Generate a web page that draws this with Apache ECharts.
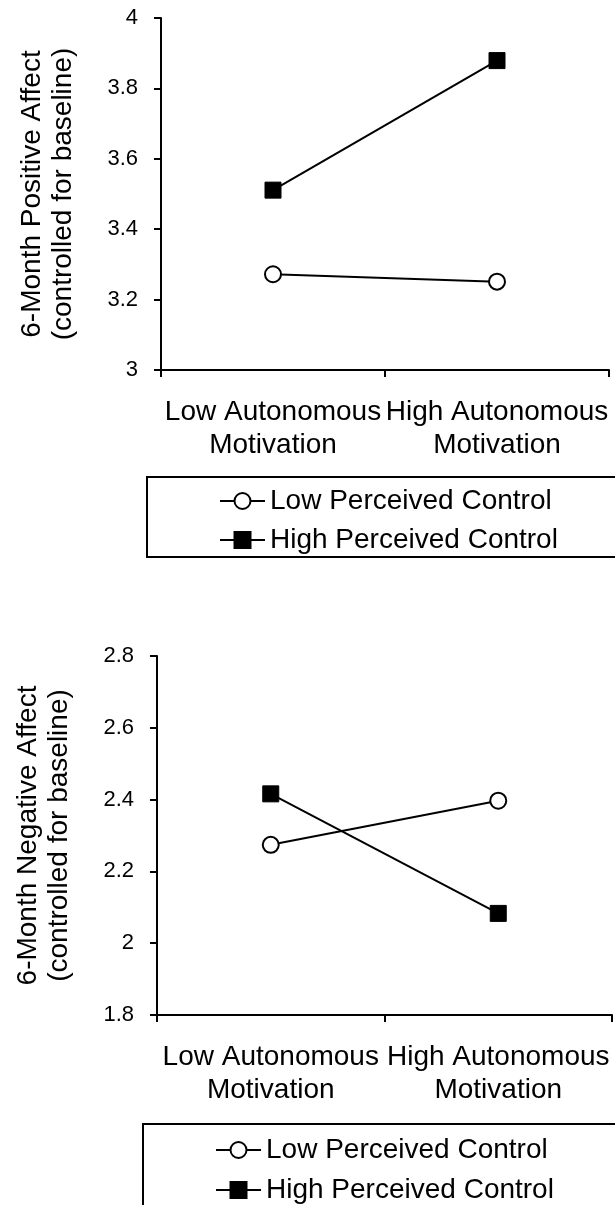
<!DOCTYPE html>
<html>
<head>
<meta charset="utf-8">
<script src="https://cdn.jsdelivr.net/npm/echarts@6/dist/echarts.min.js"></script>
<style>
  html, body { margin: 0; padding: 0; background: #fff; }
  #chart { width: 615px; height: 1205px; }
</style>
</head>
<body>
<div id="chart"></div>
<script>
// ---- data ----
const categories = ['Low Autonomous\nMotivation', 'High Autonomous\nMotivation'];
const seriesNames = ['Low Perceived Control', 'High Perceived Control'];

// Top panel: 6-Month Positive Affect
const posLowPC = [3.272, 3.251];
const posHighPC = [3.511, 3.879];
const posTicks = [3, 3.2, 3.4, 3.6, 3.8, 4];
const posTitle = '6-Month Positive Affect\n(controlled for baseline)';

// Bottom panel: 6-Month Negative Affect
const negLowPC = [2.274, 2.397];
const negHighPC = [2.416, 2.083];
const negTicks = [1.8, 2, 2.2, 2.4, 2.6, 2.8];
const negTitle = '6-Month Negative Affect\n(controlled for baseline)';

// ---- chart ----
const FONT = '"Liberation Sans", Arial, sans-serif';
const chart = echarts.init(document.getElementById('chart'), null, { renderer: 'canvas' });

function xAxisCfg(gridIndex) {
  return {
    type: 'category',
    gridIndex: gridIndex,
    data: categories,
    boundaryGap: true,
    axisLine: { lineStyle: { color: '#000', width: 2 } },
    axisTick: { show: true, length: 7, lineStyle: { color: '#000', width: 2 } },
    axisLabel: {
      interval: 0, color: '#000', fontSize: 28, lineHeight: 33,
      fontFamily: FONT, margin: 26
    },
    splitLine: { show: false }
  };
}
function yAxisCfg(gridIndex, ticks, title) {
  return {
    type: 'value',
    gridIndex: gridIndex,
    min: ticks[0],
    max: ticks[ticks.length - 1],
    interval: Math.round((ticks[1] - ticks[0]) * 1000) / 1000,
    name: title,
    nameLocation: 'middle',
    nameRotate: 90,
    nameGap: 82,
    nameTextStyle: { color: '#000', fontSize: 28, lineHeight: 31, fontFamily: FONT },
    axisLine: { show: true, lineStyle: { color: '#000', width: 2 } },
    axisTick: { show: true, length: 7, lineStyle: { color: '#000', width: 2 } },
    axisLabel: { color: '#000', fontSize: 22, fontFamily: FONT, margin: 23 },
    splitLine: { show: false }
  };
}
function lineSeries(name, data, idx, isLow) {
  return {
    type: 'line',
    name: name,
    xAxisIndex: idx,
    yAxisIndex: idx,
    data: data,
    symbol: isLow ? 'circle' : 'rect',
    symbolSize: 16,
    lineStyle: { color: '#000', width: 2 },
    itemStyle: isLow
      ? { color: '#fff', borderColor: '#000', borderWidth: 2 }
      : { color: '#000', borderColor: '#000', borderWidth: 1 },
    z: isLow ? 3 : 2
  };
}
function legendCfg(top, left, padding, gap) {
  return {
    orient: 'vertical',
    left: left,
    top: top,
    height: 200,
    data: seriesNames,
    itemWidth: 45,
    itemHeight: 20,
    itemGap: gap,
    padding: padding,
    borderColor: '#000',
    borderWidth: 2,
    selectedMode: false,
    textStyle: { color: '#000', fontSize: 28, lineHeight: 30, fontFamily: FONT }
  };
}

chart.setOption({
  animation: false,
  backgroundColor: '#fff',
  grid: [
    { left: 161, right: 6, top: 18, height: 352 },
    { left: 157, right: 3, top: 656, height: 359 }
  ],
  xAxis: [xAxisCfg(0), xAxisCfg(1)],
  yAxis: [yAxisCfg(0, posTicks, posTitle), yAxisCfg(1, negTicks, negTitle)],
  legend: [
    legendCfg(477, 147, [9, 72, 2, 72], 9),
    legendCfg(1124, 143, [11, 72, 4, 72], 10)
  ],
  series: [
    lineSeries(seriesNames[0], posLowPC, 0, true),
    lineSeries(seriesNames[1], posHighPC, 0, false),
    lineSeries(seriesNames[0], negLowPC, 1, true),
    lineSeries(seriesNames[1], negHighPC, 1, false)
  ]
});
</script>
</body>
</html>
